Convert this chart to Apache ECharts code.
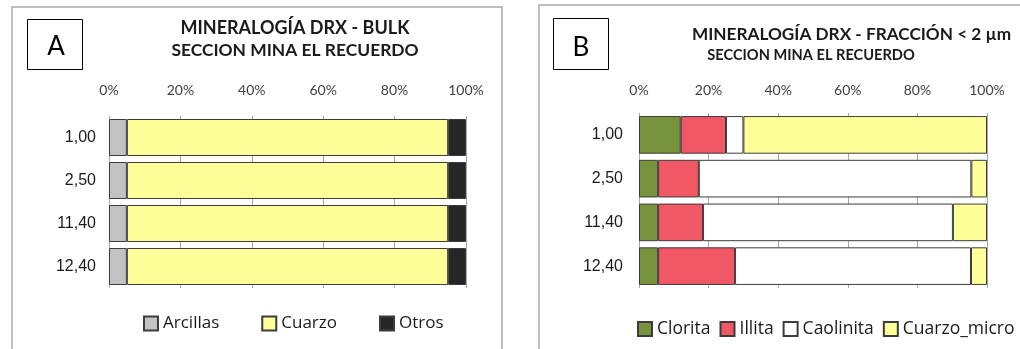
<!DOCTYPE html>
<html>
<head>
<meta charset="utf-8">
<title>Mineralogía DRX - Sección Mina El Recuerdo</title>
<script src="https://cdn.jsdelivr.net/npm/echarts@6/dist/echarts.min.js"></script>
<style>
  html, body { margin: 0; padding: 0; background: #ffffff; }
  #chart { width: 1020px; height: 349px; }
</style>
</head>
<body>
<div id="chart"></div>
<script>
// Sample depths (m) shared by both panels
const depths = ['1,00', '2,50', '11,40', '12,40'];
const pctTicks = [0, 20, 40, 60, 80, 100];

// Panel A – bulk mineralogy (%)
const arcillas = [5, 5, 5, 5];
const cuarzo   = [90, 90, 90, 90];
const otros    = [5, 5, 5, 5];

// Panel B – clay fraction < 2 µm (%)
const clorita     = [12, 5.5, 5.5, 5.5];
const illita      = [13, 11.7, 12.9, 22.1];
const caolinita   = [5, 78.3, 71.8, 67.8];
const cuarzoMicro = [70, 4.5, 9.8, 4.6];

const edge = '#3c3c3c';
const uiFont = 'Lato, "Open Sans", sans-serif';
const legendFont = '"Open Sans", Lato, sans-serif';

function xAxisCfg(gridIndex, labelMargin) {
  return {
    gridIndex: gridIndex,
    type: 'value',
    position: 'top',
    min: pctTicks[0],
    max: pctTicks[pctTicks.length - 1],
    interval: pctTicks[1] - pctTicks[0],
    axisLine: { show: false },
    axisTick: { show: false },
    axisLabel: {
      formatter: '{value}%',
      margin: labelMargin,
      color: '#404040',
      fontFamily: uiFont,
      fontSize: 14
    },
    splitLine: { show: true, lineStyle: { color: '#a6a6a6', width: 1 } }
  };
}

function yAxisCfg(gridIndex, labelMargin) {
  return {
    gridIndex: gridIndex,
    type: 'category',
    inverse: true,
    data: depths,
    axisLine: { show: false },
    axisTick: { show: false },
    axisLabel: {
      margin: labelMargin,
      color: '#1a1a1a',
      fontFamily: '"Liberation Sans", Arial, sans-serif',
      fontSize: 16
    }
  };
}

function barSeries(name, values, color, stack, axisIndex) {
  return {
    name: name,
    type: 'bar',
    stack: stack,
    xAxisIndex: axisIndex,
    yAxisIndex: axisIndex,
    barCategoryGap: '14%',
    data: values,
    itemStyle: { color: color, borderColor: edge, borderWidth: 1 },
    emphasis: { disabled: true }
  };
}

const chart = echarts.init(document.getElementById('chart'), null, { renderer: 'canvas' });

chart.setOption({
  animation: false,
  backgroundColor: '#ffffff',
  grid: [
    { left: 109, width: 357, top: 116, height: 172 },
    { left: 639, width: 348, top: 113, height: 175 }
  ],
  xAxis: [xAxisCfg(0, 19), xAxisCfg(1, 16)],
  yAxis: [yAxisCfg(0, 13), yAxisCfg(1, 16)],
  legend: [
    {
      data: ['Arcillas', 'Cuarzo', 'Otros'],
      left: 143, top: 315, padding: 0, width: 360,
      icon: 'rect', itemWidth: 14, itemHeight: 14, itemGap: 42,
      textStyle: { fontFamily: legendFont, fontSize: 17, color: '#1a1a1a' },
      selectedMode: false
    },
    {
      data: ['Clorita', 'Illita', 'Caolinita', 'Cuarzo_micro'],
      left: 637, top: 320, padding: 0, width: 440,
      icon: 'rect', itemWidth: 14, itemHeight: 14, itemGap: 9,
      textStyle: { fontFamily: legendFont, fontSize: 17.5, color: '#1a1a1a' },
      selectedMode: false
    }
  ],
  series: [
    barSeries('Arcillas', arcillas, '#c3c3c3', 'bulk', 0),
    barSeries('Cuarzo', cuarzo, '#ffff99', 'bulk', 0),
    barSeries('Otros', otros, '#262626', 'bulk', 0),
    barSeries('Clorita', clorita, '#77933c', 'clay', 1),
    barSeries('Illita', illita, '#f25766', 'clay', 1),
    barSeries('Caolinita', caolinita, '#ffffff', 'clay', 1),
    barSeries('Cuarzo_micro', cuarzoMicro, '#ffff99', 'clay', 1)
  ],
  graphic: [
    // panel frames
    { type: 'rect', shape: { x: 12, y: 7, width: 490, height: 360 },
      style: { fill: 'none', stroke: '#a9a9a9', lineWidth: 1.5 }, silent: true, z: -1 },
    { type: 'rect', shape: { x: 539, y: 5, width: 500, height: 360 },
      style: { fill: 'none', stroke: '#a9a9a9', lineWidth: 1.5 }, silent: true, z: -1 },
    // panel letters
    { type: 'rect', shape: { x: 27.5, y: 19.5, width: 55, height: 50 },
      style: { fill: '#ffffff', stroke: '#000000', lineWidth: 1 }, silent: true },
    { type: 'text', x: 56, y: 47, silent: true,
      style: { text: 'A', fill: '#000', font: '400 26px ' + uiFont, textAlign: 'center', textVerticalAlign: 'middle' } },
    { type: 'rect', shape: { x: 553.5, y: 18.5, width: 55, height: 51 },
      style: { fill: '#ffffff', stroke: '#000000', lineWidth: 1 }, silent: true },
    { type: 'text', x: 581, y: 48, silent: true,
      style: { text: 'B', fill: '#000', font: '400 26px ' + uiFont, textAlign: 'center', textVerticalAlign: 'middle' } },
    // panel titles
    { type: 'text', x: 295, y: 28, silent: true,
      style: { text: 'MINERALOGÍA DRX - BULK', fill: '#1a1a1a', font: '700 18px ' + uiFont, textAlign: 'center', textVerticalAlign: 'middle' } },
    { type: 'text', x: 295, y: 50, silent: true,
      style: { text: 'SECCION MINA EL RECUERDO', fill: '#1a1a1a', font: '700 17.4px ' + uiFont, textAlign: 'center', textVerticalAlign: 'middle' } },
    { type: 'text', x: 692, y: 34.5, silent: true,
      style: { text: 'MINERALOGÍA DRX - FRACCIÓN < 2 µm', fill: '#1a1a1a', font: '700 17.2px ' + uiFont, textAlign: 'left', textVerticalAlign: 'middle' } },
    { type: 'text', x: 811, y: 55.5, silent: true,
      style: { text: 'SECCION MINA EL RECUERDO', fill: '#1a1a1a', font: '700 14.6px ' + uiFont, textAlign: 'center', textVerticalAlign: 'middle' } }
  ]
});
</script>
</body>
</html>
